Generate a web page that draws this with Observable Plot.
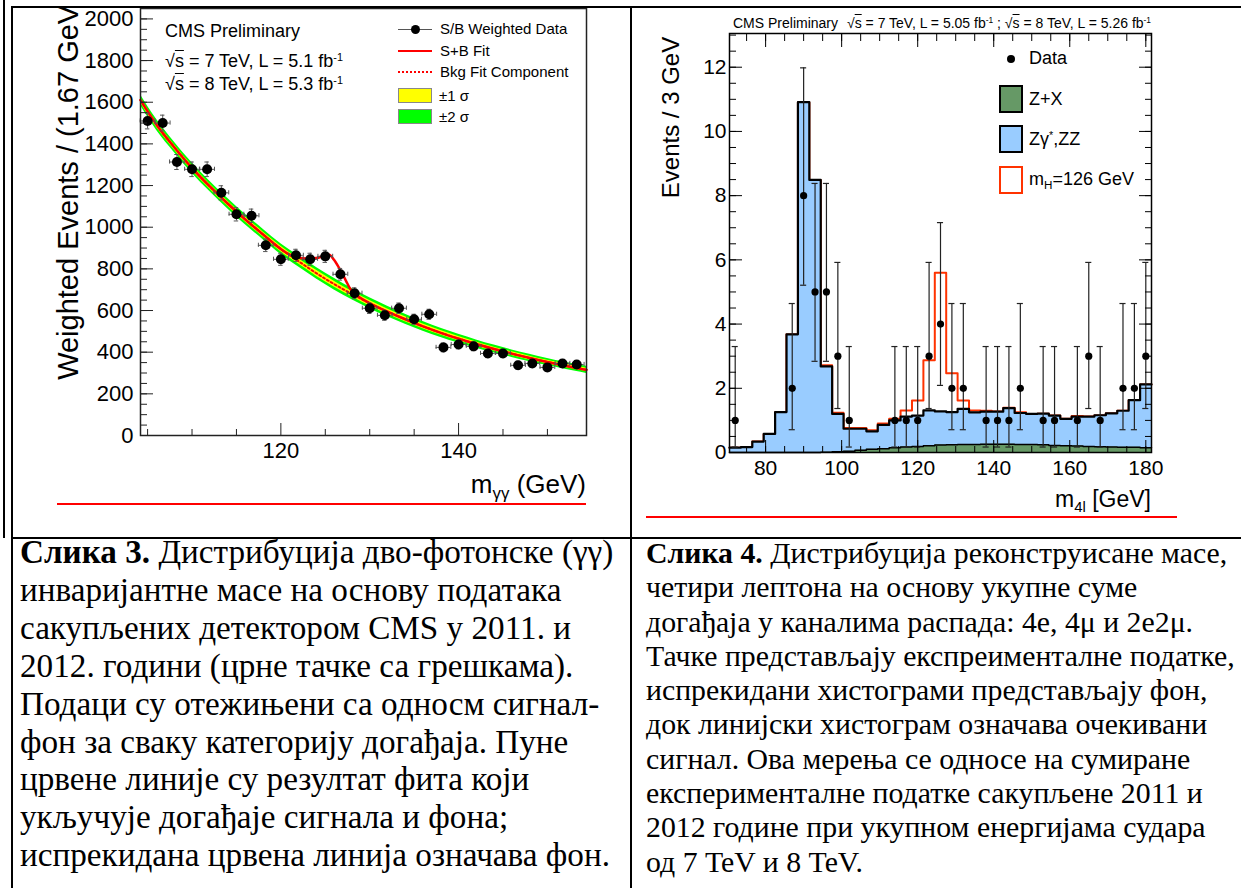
<!DOCTYPE html>
<html><head><meta charset="utf-8">
<script src="https://cdn.jsdelivr.net/npm/d3@7"></script>
<script src="https://cdn.jsdelivr.net/npm/@observablehq/plot@0.6"></script>
<style>
body{margin:0;background:#fff;}
#page{position:relative;width:1241px;height:888px;overflow:hidden;background:#fff;font-family:"Liberation Sans",Arial,sans-serif;color:#000;}
.abs{position:absolute;white-space:nowrap;}
.cap{position:absolute;font-family:"Liberation Serif","Times New Roman",serif;white-space:nowrap;color:#000;}
.abs sup{font-size:0.6em;vertical-align:0.55em;line-height:0;}
.abs sub{font-size:0.65em;vertical-align:-0.35em;line-height:0;}
.ov{text-decoration:overline;}
</style></head><body><div id="page"></div>
<script>
// ================= Figure 3 : diphoton invariant mass =================
const gamBinX = [105.0, 106.7, 108.3, 110.0, 111.7, 113.3, 115.0, 116.7, 118.3, 120.0, 121.7, 123.3, 125.0, 126.7, 128.3, 130.0, 131.7, 133.3, 135.0, 136.7, 138.3, 140.0, 141.7, 143.3, 145.0, 146.7, 148.3, 150.0, 151.7, 153.3];
const gamEvents = [1510, 1500, 1313, 1278, 1278, 1165, 1062, 1055, 913, 846, 865, 846, 860, 774, 683, 611, 577, 611, 558, 582, 423, 437, 428, 394, 394, 337, 346, 327, 346, 341];
const gamErr = [38, 38, 36, 35, 35, 34, 32, 32, 30, 29, 29, 29, 29, 28, 26, 25, 24, 25, 24, 24, 21, 21, 21, 20, 20, 19, 19, 18, 19, 19];
const gamHalfBin = 0.83;
const bkgFitX = [104.2, 106, 108, 110, 112, 114, 116, 118, 120, 122, 124, 126, 128, 130, 132, 134, 136, 138, 140, 142, 144, 146, 148, 150, 152, 154.4];
const bkgFitY = [1610, 1492, 1384, 1284, 1196, 1114, 1037, 965, 895, 836, 779, 727, 679, 635, 595, 558, 524, 493, 465, 439, 415, 393, 372, 353, 335, 315];
const band2Sigma = [26, 26, 25, 25, 25, 25, 25, 25, 26, 27, 28, 28, 27, 26, 25, 24, 23, 22, 21, 20, 19, 18, 18, 17, 17, 17];
const band1Sigma = [12, 12, 12, 12, 12, 12, 12, 12, 13, 13, 14, 14, 13, 13, 12, 12, 11, 11, 10, 10, 9, 9, 9, 8, 8, 8];
const sbFitX = [104.2, 106, 108, 110, 112, 114, 116, 118, 120, 121, 122, 123, 124, 124.8, 125.4, 126, 126.7, 127.3, 127.8, 128.3, 130, 132, 134, 136, 138, 140, 142, 144, 146, 148, 150, 152, 154.4];
const sbFitY = [1610, 1492, 1384, 1284, 1196, 1114, 1037, 965, 895, 868, 853, 849, 852, 862, 869, 842, 793, 745, 705, 682, 635, 595, 558, 524, 493, 465, 439, 415, 393, 372, 353, 335, 315];
const gamYMajor = [0, 200, 400, 600, 800, 1000, 1200, 1400, 1600, 1800, 2000];
const gamYMinor = d3.range(0, 2051, 50);
const gamXMajor = [120, 140];
const gamXMinor = [105, 110, 115, 125, 130, 135, 145, 150];

// ================= Figure 4 : four-lepton mass =================
const fourLBins = [72, 75, 78, 81, 84, 87, 90, 93, 96, 99, 102, 105, 108, 111, 114, 117, 120, 123, 126, 129, 132, 135, 138, 141, 144, 147, 150, 153, 156, 159, 162, 165, 168, 171, 174, 177, 180];
const zPlusX = [0, 0, 0, 0, 0, 0, 0, 0, 0.01, 0.02, 0.04, 0.07, 0.10, 0.12, 0.15, 0.17, 0.19, 0.21, 0.23, 0.24, 0.25, 0.25, 0.26, 0.26, 0.26, 0.25, 0.25, 0.24, 0.22, 0.21, 0.20, 0.19, 0.18, 0.17, 0.16, 0.16, 0.15];
const totalBkg = [0.15, 0.17, 0.34, 0.58, 1.26, 3.68, 10.91, 8.49, 2.68, 1.20, 0.74, 0.74, 0.66, 0.86, 1.00, 1.12, 1.15, 1.31, 1.28, 1.26, 1.36, 1.25, 1.27, 1.27, 1.38, 1.23, 1.20, 1.21, 1.15, 1.05, 1.12, 1.12, 1.16, 1.22, 1.30, 1.63, 2.12];
const higgs126 = [0, 0, 0, 0, 0, 0, 0, 0, 0.04, 0.04, 0.02, 0.02, 0.03, 0.04, 0.05, 0.19, 0.47, 1.56, 4.32, 1.21, 0.26, 0.06, 0.03, 0.01, 0.01, 0.02, 0, 0, 0, 0, 0.02, 0, 0, 0, 0, 0, 0];
const fourLHalfBin = 1.5;
const obsMass = [72, 87, 90, 93, 96, 99, 102, 114, 117, 120, 123, 126, 129, 132, 138, 141, 144, 147, 153, 156, 162, 165, 168, 174, 177, 180];
const obsCount = [1, 2, 8, 5, 5, 3, 1, 1, 1, 1, 3, 4, 2, 2, 1, 1, 1, 2, 1, 1, 1, 3, 1, 2, 2, 3];
const obsLow = [0.17, 0.71, 5.21, 2.84, 2.84, 1.37, 0.17, 0.17, 0.17, 0.17, 1.37, 2.09, 0.71, 0.71, 0.17, 0.17, 0.17, 0.71, 0.17, 0.17, 0.17, 1.37, 0.17, 0.71, 0.71, 1.37];
const obsHigh = [3.30, 4.64, 11.98, 8.38, 8.38, 5.92, 3.30, 3.30, 3.30, 3.30, 5.92, 7.16, 4.64, 4.64, 3.30, 3.30, 3.30, 4.64, 3.30, 3.30, 3.30, 5.92, 3.30, 4.64, 4.64, 5.92];
const fourLYMajor = [0, 2, 4, 6, 8, 10, 12];
const fourLYMinor = d3.range(0, 13.01, 0.5);
const fourLXMajor = [80, 100, 120, 140, 160, 180];
const fourLXMinor = d3.range(75, 181, 5);

// ---------- tables built from the arrays ----------
const gamPts = gamBinX.map((x, i) => ({x, y: gamEvents[i], e: gamErr[i]}));
const band = bkgFitX.map((x, i) => ({x, y: bkgFitY[i], lo2: bkgFitY[i] - band2Sigma[i], hi2: bkgFitY[i] + band2Sigma[i], lo1: bkgFitY[i] - band1Sigma[i], hi1: bkgFitY[i] + band1Sigma[i]}));
const sb = sbFitX.map((x, i) => ({x, y: sbFitY[i]}));

function steps(vals) {
  const pts = [];
  fourLBins.forEach((c, i) => { pts.push({x: c - fourLHalfBin, y: vals[i]}); pts.push({x: c + fourLHalfBin, y: vals[i]}); });
  return pts;
}
const zxSteps = steps(zPlusX);
const bkgSteps = steps(totalBkg);
const sigSteps = steps(totalBkg.map((v, i) => v + higgs126[i]));
const obs = obsMass.map((x, i) => ({x, y: obsCount[i], lo: obsLow[i], hi: obsHigh[i]}));

const page = document.getElementById("page");
const FONT = "'Liberation Sans', Arial, sans-serif";

// ---------- left plot ----------
const leftPlot = Plot.plot({
  width: 590, height: 505,
  marginLeft: 127, marginRight: 17, marginTop: 1, marginBottom: 77,
  x: {domain: [104.2, 154.4]},
  y: {domain: [0, 2050]},
  style: {fontFamily: FONT, color: "#000", background: "transparent"},
  marks: [
    Plot.areaY(band, {x: "x", y1: "lo2", y2: "hi2", fill: "#00ff00", curve: "natural"}),
    Plot.areaY(band, {x: "x", y1: "lo1", y2: "hi1", fill: "#ffff00", curve: "natural"}),
    Plot.line(band, {x: "x", y: "y", stroke: "#ff0000", strokeWidth: 2, strokeDasharray: "2,2.5", curve: "natural"}),
    Plot.line(sb, {x: "x", y: "y", stroke: "#ff0000", strokeWidth: 2.5, curve: "monotone-x"}),
    Plot.ruleX(gamPts, {x: "x", y1: d => d.y - d.e, y2: d => d.y + d.e, stroke: "#555", strokeWidth: 1}),
    Plot.ruleY(gamPts, {y: "y", x1: d => d.x - gamHalfBin, x2: d => d.x + gamHalfBin, stroke: "#555", strokeWidth: 1}),
    Plot.ruleY(gamPts, {y: d => d.y + d.e, x1: d => d.x - 0.25, x2: d => d.x + 0.25, stroke: "#555", strokeWidth: 1}),
    Plot.ruleY(gamPts, {y: d => d.y - d.e, x1: d => d.x - 0.25, x2: d => d.x + 0.25, stroke: "#555", strokeWidth: 1}),
    Plot.ruleX(gamPts, {x: d => d.x - gamHalfBin, y1: d => d.y - 10, y2: d => d.y + 10, stroke: "#555", strokeWidth: 1}),
    Plot.ruleX(gamPts, {x: d => d.x + gamHalfBin, y1: d => d.y - 10, y2: d => d.y + 10, stroke: "#555", strokeWidth: 1}),
    Plot.dot(gamPts, {x: "x", y: "y", r: 5, fill: "#000"}),
    Plot.frame({stroke: "#222", strokeWidth: 1.5}),
    Plot.axisY({ticks: gamYMajor, tickSize: 13, dx: 13, fill: "none", stroke: "#222", label: null}),
    Plot.axisY({ticks: gamYMinor, tickSize: 7, dx: 7, fill: "none", stroke: "#222", label: null}),
    Plot.axisY({ticks: gamYMajor, tickSize: 0, tickPadding: 7, stroke: "none", fontSize: 22, tickFormat: d => String(d), label: null}),
    Plot.axisX({ticks: gamXMajor, tickSize: 12, dy: -12, fill: "none", stroke: "#222", label: null}),
    Plot.axisX({ticks: gamXMinor, tickSize: 6, dy: -6, fill: "none", stroke: "#222", label: null}),
    Plot.axisX({ticks: gamXMajor, tickSize: 0, tickPadding: 7, stroke: "none", fontSize: 22, tickFormat: d => String(d), label: null}),
    Plot.text(["Weighted Events / (1.67 GeV)"], {frameAnchor: "left", textAnchor: "middle", rotate: -90, dx: -72, dy: -34.5, fontSize: 29})
  ]
});
leftPlot.style.position = "absolute";
leftPlot.style.left = "13px";
leftPlot.style.top = "7px";
page.appendChild(leftPlot);

// ---------- right plot ----------
const rightPlot = Plot.plot({
  width: 609, height: 505,
  marginLeft: 97, marginRight: 90, marginTop: 26, marginBottom: 60,
  x: {domain: [70.5, 181.5]},
  y: {domain: [0, 13.05]},
  style: {fontFamily: FONT, color: "#000", background: "transparent"},
  marks: [
    Plot.line(sigSteps, {x: "x", y: "y", stroke: "#ff3300", strokeWidth: 2}),
    Plot.areaY(bkgSteps, {x: "x", y1: 0, y2: "y", fill: "#99ccff"}),
    Plot.line(bkgSteps, {x: "x", y: "y", stroke: "#000", strokeWidth: 2.2}),
    Plot.areaY(zxSteps, {x: "x", y1: 0, y2: "y", fill: "#669966"}),
    Plot.line(zxSteps, {x: "x", y: "y", stroke: "#000", strokeWidth: 1.5}),
    Plot.ruleX(obs, {x: "x", y1: "lo", y2: "hi", stroke: "#222", strokeWidth: 1.2}),
    Plot.ruleY(obs, {y: "lo", x1: d => d.x - 0.8, x2: d => d.x + 0.8, stroke: "#222", strokeWidth: 1.2}),
    Plot.ruleY(obs, {y: "hi", x1: d => d.x - 0.8, x2: d => d.x + 0.8, stroke: "#222", strokeWidth: 1.2}),
    Plot.dot(obs, {x: "x", y: "y", r: 3.6, fill: "#000"}),
    Plot.frame({stroke: "#000", strokeWidth: 1.5}),
    Plot.axisY({ticks: fourLYMajor, tickSize: 13, dx: 13, fill: "none", stroke: "#000", label: null}),
    Plot.axisY({ticks: fourLYMinor, tickSize: 7, dx: 7, fill: "none", stroke: "#000", label: null}),
    Plot.axisY({anchor: "right", ticks: fourLYMajor, tickSize: 13, dx: -13, fill: "none", stroke: "#000", label: null}),
    Plot.axisY({anchor: "right", ticks: fourLYMinor, tickSize: 7, dx: -7, fill: "none", stroke: "#000", label: null}),
    Plot.axisY({ticks: fourLYMajor, tickSize: 0, tickPadding: 3, stroke: "none", fontSize: 21, tickFormat: d => String(d), label: null}),
    Plot.axisX({ticks: fourLXMajor, tickSize: 12, dy: -12, fill: "none", stroke: "#000", label: null}),
    Plot.axisX({ticks: fourLXMinor, tickSize: 6, dy: -6, fill: "none", stroke: "#000", label: null}),
    Plot.axisX({anchor: "top", ticks: fourLXMajor, tickSize: 13, dy: 13, fill: "none", stroke: "#000", label: null}),
    Plot.axisX({anchor: "top", ticks: fourLXMinor, tickSize: 7, dy: 7, fill: "none", stroke: "#000", label: null}),
    Plot.axisX({ticks: fourLXMajor, tickSize: 0, tickPadding: 8, stroke: "none", fontSize: 21, tickFormat: d => String(d), label: null}),
    Plot.text(["Events / 3 GeV"], {frameAnchor: "left", textAnchor: "middle", rotate: -90, dx: -58, dy: -125.5, fontSize: 24})
  ]
});
rightPlot.style.position = "absolute";
rightPlot.style.left = "632px";
rightPlot.style.top = "7px";
page.appendChild(rightPlot);

// ---------- HTML helpers ----------
function txt(html, x, yc, fs, align) {
  const d = document.createElement("div");
  d.className = "abs";
  d.innerHTML = html;
  d.style.fontSize = fs + "px";
  d.style.lineHeight = fs + "px";
  d.style.top = (yc - 0.53 * fs) + "px";
  d.style.left = x + "px";
  if (align === "right") d.style.transform = "translateX(-100%)";
  page.appendChild(d);
  return d;
}
function box(x, y, w, h, css) {
  const d = document.createElement("div");
  d.style.position = "absolute";
  d.style.left = x + "px"; d.style.top = y + "px";
  d.style.width = w + "px"; d.style.height = h + "px";
  d.style.boxSizing = "border-box";
  Object.assign(d.style, css);
  page.appendChild(d);
  return d;
}
const SQ = "√<span class='ov'>s</span>";

// left annotations
txt("CMS Preliminary", 165, 32, 18);
txt(SQ + " = 7 TeV, L = 5.1 fb<sup>-1</sup>", 165, 62, 18);
txt(SQ + " = 8 TeV, L = 5.3 fb<sup>-1</sup>", 165, 85, 18);
// left legend
box(398, 29, 34, 1, {background: "#555"});
box(411, 25, 9, 9, {background: "#000", borderRadius: "50%"});
txt("S/B Weighted Data", 440, 29, 15);
box(398, 50, 34, 2, {background: "#ff0000"});
txt("S+B Fit", 440, 51, 15);
box(398, 71, 34, 2, {borderTop: "2px dotted #ff0000"});
txt("Bkg Fit Component", 440, 72, 15);
box(398, 88, 34, 15, {background: "#ffff00", border: "1px solid #888"});
txt("±1 σ", 439, 96, 15);
box(398, 109, 34, 15, {background: "#00ff00", border: "1px solid #888"});
txt("±2 σ", 439, 117, 15);
txt("m<sub>γγ</sub> (GeV)", 586, 485, 26, "right");
box(57, 503, 529, 2, {background: "#ff0000"});

// right annotations
txt("CMS Preliminary", 733, 23, 14);
txt(SQ + " = 7 TeV, L = 5.05 fb<sup>-1</sup> ; " + SQ + " = 8 TeV, L = 5.26 fb<sup>-1</sup>", 847, 23, 14);
box(1007, 55, 8, 8, {background: "#000", borderRadius: "50%"});
txt("Data", 1029, 59, 18);
box(999, 85, 24, 28, {background: "#669966", border: "2px solid #000"});
txt("Z+X", 1029, 100, 18);
box(999, 125, 24, 28, {background: "#99ccff", border: "2px solid #000"});
txt("Zγ<sup>*</sup>,ZZ", 1029, 140, 18);
box(999, 166, 24, 28, {background: "#fff", border: "2px solid #ff3300"});
txt("m<sub>H</sub>=126 GeV", 1029, 180, 18);
txt("m<sub>4l</sub> [GeV]", 1151, 500, 23, "right");
box(646, 516, 531, 2, {background: "#ff0000"});

// table borders
box(3, 0, 2, 538, {background: "#000"});
box(11, 6, 2, 882, {background: "#000"});
box(11, 6, 1230, 2, {background: "#000"});
box(630, 6, 2, 882, {background: "#000"});
box(11, 537, 1230, 2, {background: "#000"});

// captions
const SERIF = "'Liberation Serif', 'Times New Roman', serif";
const capLeft = document.createElement("div");
capLeft.className = "cap";
capLeft.style.fontFamily = SERIF;
capLeft.style.left = "20px"; capLeft.style.top = "533px";
capLeft.style.fontSize = "33.2px"; capLeft.style.lineHeight = "37.9px";
capLeft.innerHTML = "<b>Слика 3.</b> Дистрибуција дво-фотонске (γγ)<br>инваријантне масе на основу података<br>сакупљених детектором CMS у 2011. и<br>2012. години (црне тачке са грешкама).<br>Подаци су отежињени са односм сигнал-<br>фон за сваку категорију догађаја. Пуне<br>црвене линије су резултат фита који<br>укључује догађаје сигнала и фона;<br>испрекидана црвена линија означава фон.";
page.appendChild(capLeft);

const capRight = document.createElement("div");
capRight.className = "cap";
capRight.style.fontFamily = SERIF;
capRight.style.left = "646px"; capRight.style.top = "536px";
capRight.style.fontSize = "29.8px"; capRight.style.lineHeight = "34.3px";
capRight.innerHTML = "<b>Слика 4.</b> Дистрибуција реконструисане масе,<br>четири лептона на основу укупне суме<br>догађаја у каналима распада: 4e, 4μ и 2e2μ.<br>Тачке представљају експреименталне податке,<br>испрекидани хистограми представљају фон,<br>док линијски хистограм означава очекивани<br>сигнал. Ова мерења се односе на сумиране<br>експерименталне податке сакупљене 2011 и<br>2012 године при укупном енергијама судара<br>од 7 TeV и 8 TeV.";
page.appendChild(capRight);
</script></body></html>
